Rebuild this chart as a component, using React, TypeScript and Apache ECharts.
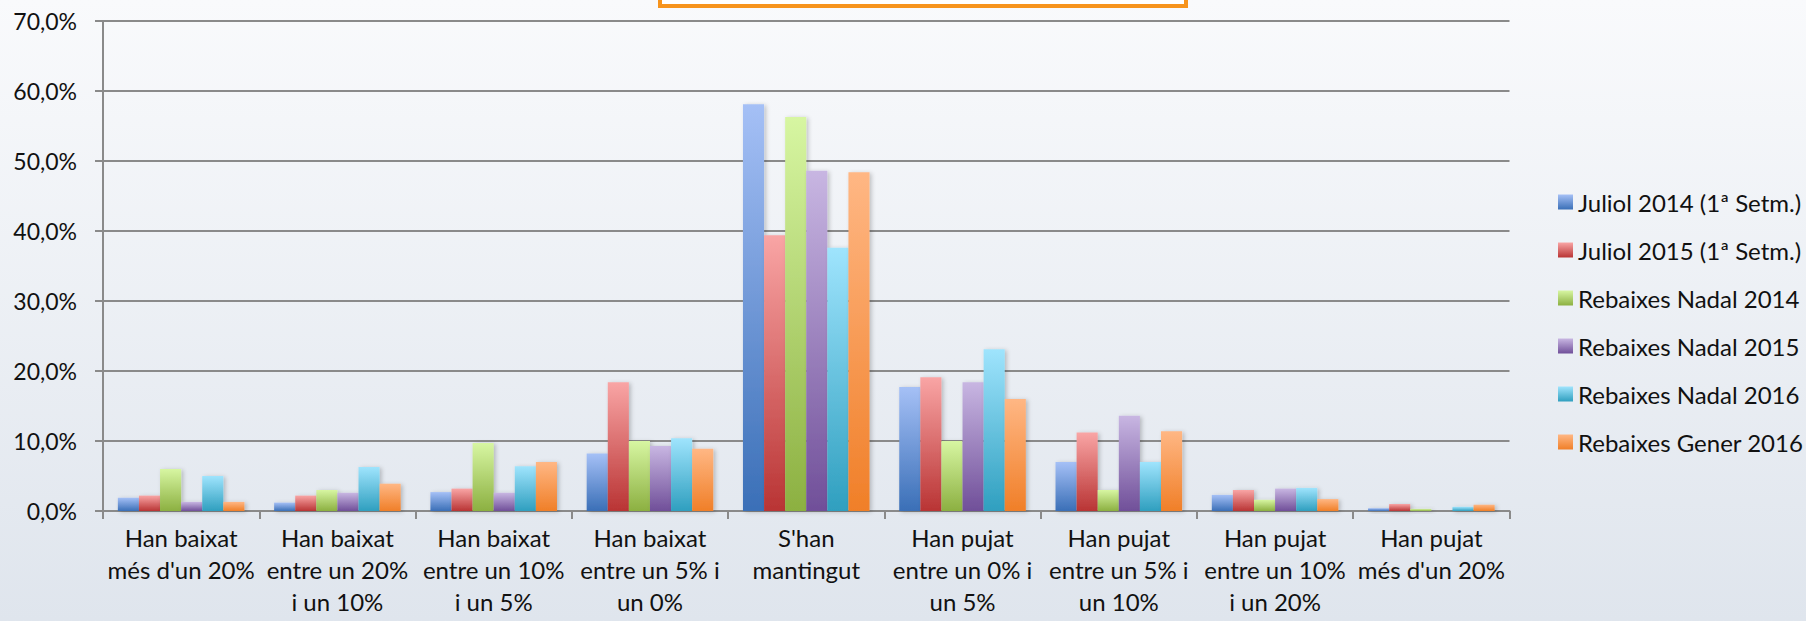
import React, { useEffect, useRef } from "react";
import * as echarts from "echarts";

const categories = [
  "Han baixat\nmés d'un 20%",
  "Han baixat\nentre un 20%\ni un 10%",
  "Han baixat\nentre un 10%\ni un 5%",
  "Han baixat\nentre un 5% i\nun 0%",
  "S'han\nmantingut",
  "Han pujat\nentre un 0% i\nun 5%",
  "Han pujat\nentre un 5% i\nun 10%",
  "Han pujat\nentre un 10%\ni un 20%",
  "Han pujat\nmés d'un 20%",
];

const seriesNames = [
  "Juliol 2014 (1ª Setm.)",
  "Juliol 2015 (1ª Setm.)",
  "Rebaixes Nadal 2014",
  "Rebaixes Nadal 2015",
  "Rebaixes Nadal 2016",
  "Rebaixes Gener 2016",
];

const juliol2014 = [1.9, 1.2, 2.7, 8.2, 58.1, 17.7, 7.0, 2.3, 0.4];
const juliol2015 = [2.2, 2.2, 3.2, 18.4, 39.4, 19.1, 11.2, 3.0, 1.0];
const nadal2014 = [6.0, 3.0, 9.7, 10.0, 56.3, 10.0, 3.0, 1.6, 0.3];
const nadal2015 = [1.3, 2.6, 2.6, 9.3, 48.6, 18.4, 13.6, 3.2, 0.0];
const nadal2016 = [5.0, 6.3, 6.4, 10.4, 37.6, 23.1, 7.0, 3.3, 0.6];
const gener2016 = [1.3, 3.9, 7.0, 8.9, 48.4, 16.0, 11.4, 1.7, 0.9];

const seriesValues = [juliol2014, juliol2015, nadal2014, nadal2015, nadal2016, gener2016];

const gradientStops: [string, string][] = [
  ["#a5c0f6", "#3a6fb7"],
  ["#f9a5a5", "#b93434"],
  ["#d7f6a2", "#8cb041"],
  ["#c8b6e2", "#704f99"],
  ["#9fe4fd", "#2f9fbf"],
  ["#ffb784", "#f07f28"],
];

const yTicks = { min: 0, max: 70, interval: 10 };

export default function App() {
  const ref = useRef<HTMLDivElement>(null);
  useEffect(() => {
    if (!ref.current) return;
    const chart = echarts.init(ref.current, null, { renderer: "svg" });
    const font = "Lato, 'Open Sans', sans-serif";
    chart.setOption({
      animation: false,
      backgroundColor: new echarts.graphic.LinearGradient(0, 0, 0, 1, [
        { offset: 0, color: "#f9fafc" },
        { offset: 1, color: "#dfe5ed" },
      ]),
      grid: { left: 103, right: 296.5, top: 21, bottom: 110, containLabel: false },
      legend: {
        orient: "vertical",
        left: 1553,
        top: 185,
        itemWidth: 15,
        itemHeight: 15,
        itemGap: 24,
        icon: "rect",
        data: seriesNames,
        textStyle: { fontFamily: font, fontSize: 24, color: "#111", lineHeight: 24 },
      },
      graphic: [
        {
          type: "rect",
          shape: { x: 660, y: -20, width: 526, height: 26 },
          style: { fill: "#ffffff", stroke: "#f7941d", lineWidth: 4 },
          z: 100,
        },
      ],
      xAxis: {
        type: "category",
        data: categories,
        axisLine: { show: true, lineStyle: { color: "#8a8a8a", width: 2 } },
        axisTick: { show: true, length: 8, lineStyle: { color: "#8a8a8a", width: 2 } },
        axisLabel: {
          interval: 0,
          margin: 10,
          fontFamily: font,
          fontSize: 24,
          lineHeight: 32,
          color: "#111",
        },
        splitLine: { show: false },
      },
      yAxis: {
        type: "value",
        min: yTicks.min,
        max: yTicks.max,
        interval: yTicks.interval,
        axisLine: { show: true, lineStyle: { color: "#8a8a8a", width: 2 } },
        axisTick: { show: true, length: 8, lineStyle: { color: "#8a8a8a", width: 2 } },
        axisLabel: {
          margin: 26,
          fontFamily: font,
          fontSize: 23,
          color: "#111",
          formatter: (v: number) => v.toFixed(1).replace(".", ",") + "%",
        },
        splitLine: { show: true, lineStyle: { color: "#8a8a8a", width: 2 } },
      },
      series: seriesNames.map((name, i) => ({
        name,
        type: "bar",
        data: seriesValues[i],
        barGap: "0%",
        barCategoryGap: "19%",
        itemStyle: {
          color: new echarts.graphic.LinearGradient(0, 0, 0, 1, [
            { offset: 0, color: gradientStops[i][0] },
            { offset: 1, color: gradientStops[i][1] },
          ]),
          shadowColor: "rgba(0,0,0,0.22)",
          shadowBlur: 4,
          shadowOffsetX: 2,
          shadowOffsetY: 1,
        },
      })),
    });
    return () => chart.dispose();
  }, []);
  return (
    <div
      ref={ref}
      style={{ position: "fixed", left: 0, top: 0, width: 1806, height: 621 }}
    />
  );
}
